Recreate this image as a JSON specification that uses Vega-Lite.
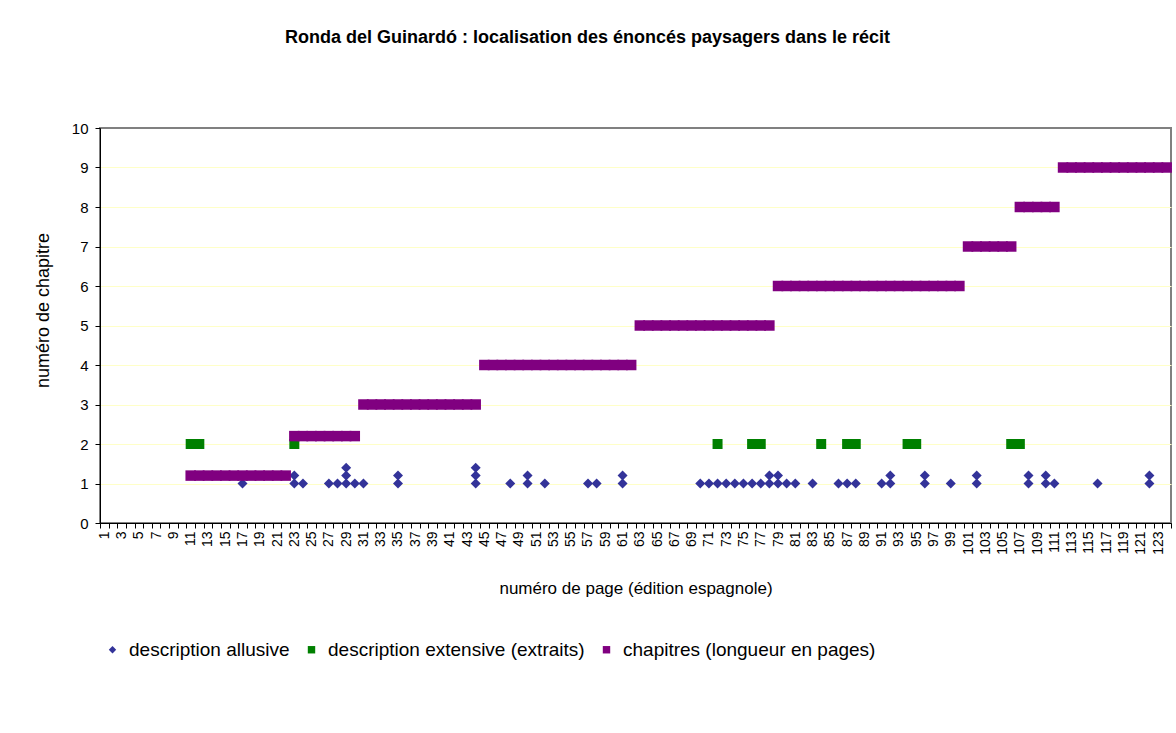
{
"$schema": "https://vega.github.io/schema/vega-lite/v6.json",
"width": 1071,
"height": 395,
"autosize": {"type": "none"},
"padding": {"left": 100, "top": 128, "right": 5, "bottom": 210},
"background": "white",
"title": {"text": "Ronda del Guinardó : localisation des énoncés paysagers dans le récit", "font": "Liberation Sans", "fontSize": 18, "fontWeight": "bold", "color": "black", "anchor": "middle", "dx": -48, "offset": 74},
"config": {"view": {"stroke": "#808080", "strokeWidth": 2}},
"data": {"values": [
{"p":17,"v":1,"s":"description allusive"},{"p":23,"v":1,"s":"description allusive"},{"p":24,"v":1,"s":"description allusive"},{"p":27,"v":1,"s":"description allusive"},{"p":28,"v":1,"s":"description allusive"},{"p":29,"v":1,"s":"description allusive"},{"p":30,"v":1,"s":"description allusive"},{"p":31,"v":1,"s":"description allusive"},{"p":35,"v":1,"s":"description allusive"},{"p":44,"v":1,"s":"description allusive"},{"p":48,"v":1,"s":"description allusive"},{"p":50,"v":1,"s":"description allusive"},{"p":52,"v":1,"s":"description allusive"},{"p":57,"v":1,"s":"description allusive"},{"p":58,"v":1,"s":"description allusive"},{"p":61,"v":1,"s":"description allusive"},{"p":70,"v":1,"s":"description allusive"},{"p":71,"v":1,"s":"description allusive"},{"p":72,"v":1,"s":"description allusive"},{"p":73,"v":1,"s":"description allusive"},{"p":74,"v":1,"s":"description allusive"},{"p":75,"v":1,"s":"description allusive"},{"p":76,"v":1,"s":"description allusive"},{"p":77,"v":1,"s":"description allusive"},{"p":78,"v":1,"s":"description allusive"},{"p":79,"v":1,"s":"description allusive"},{"p":80,"v":1,"s":"description allusive"},{"p":81,"v":1,"s":"description allusive"},{"p":83,"v":1,"s":"description allusive"},{"p":86,"v":1,"s":"description allusive"},{"p":87,"v":1,"s":"description allusive"},{"p":88,"v":1,"s":"description allusive"},{"p":91,"v":1,"s":"description allusive"},{"p":92,"v":1,"s":"description allusive"},{"p":96,"v":1,"s":"description allusive"},{"p":99,"v":1,"s":"description allusive"},{"p":102,"v":1,"s":"description allusive"},{"p":108,"v":1,"s":"description allusive"},{"p":110,"v":1,"s":"description allusive"},{"p":111,"v":1,"s":"description allusive"},{"p":116,"v":1,"s":"description allusive"},{"p":122,"v":1,"s":"description allusive"},
{"p":23,"v":1.2,"s":"description allusive"},{"p":29,"v":1.2,"s":"description allusive"},{"p":35,"v":1.2,"s":"description allusive"},{"p":44,"v":1.2,"s":"description allusive"},{"p":50,"v":1.2,"s":"description allusive"},{"p":61,"v":1.2,"s":"description allusive"},{"p":78,"v":1.2,"s":"description allusive"},{"p":79,"v":1.2,"s":"description allusive"},{"p":92,"v":1.2,"s":"description allusive"},{"p":96,"v":1.2,"s":"description allusive"},{"p":102,"v":1.2,"s":"description allusive"},{"p":108,"v":1.2,"s":"description allusive"},{"p":110,"v":1.2,"s":"description allusive"},{"p":122,"v":1.2,"s":"description allusive"},
{"p":29,"v":1.4,"s":"description allusive"},{"p":44,"v":1.4,"s":"description allusive"},
{"p":11,"v":2,"s":"description extensive (extraits)"},{"p":12,"v":2,"s":"description extensive (extraits)"},{"p":23,"v":2,"s":"description extensive (extraits)"},{"p":72,"v":2,"s":"description extensive (extraits)"},{"p":76,"v":2,"s":"description extensive (extraits)"},{"p":77,"v":2,"s":"description extensive (extraits)"},{"p":84,"v":2,"s":"description extensive (extraits)"},{"p":87,"v":2,"s":"description extensive (extraits)"},{"p":88,"v":2,"s":"description extensive (extraits)"},{"p":94,"v":2,"s":"description extensive (extraits)"},{"p":95,"v":2,"s":"description extensive (extraits)"},{"p":106,"v":2,"s":"description extensive (extraits)"},{"p":107,"v":2,"s":"description extensive (extraits)"},
{"p":11,"v":1.2,"s":"chapitres (longueur en pages)"},{"p":12,"v":1.2,"s":"chapitres (longueur en pages)"},{"p":13,"v":1.2,"s":"chapitres (longueur en pages)"},{"p":14,"v":1.2,"s":"chapitres (longueur en pages)"},{"p":15,"v":1.2,"s":"chapitres (longueur en pages)"},{"p":16,"v":1.2,"s":"chapitres (longueur en pages)"},{"p":17,"v":1.2,"s":"chapitres (longueur en pages)"},{"p":18,"v":1.2,"s":"chapitres (longueur en pages)"},{"p":19,"v":1.2,"s":"chapitres (longueur en pages)"},{"p":20,"v":1.2,"s":"chapitres (longueur en pages)"},{"p":21,"v":1.2,"s":"chapitres (longueur en pages)"},{"p":22,"v":1.2,"s":"chapitres (longueur en pages)"},
{"p":23,"v":2.2,"s":"chapitres (longueur en pages)"},{"p":24,"v":2.2,"s":"chapitres (longueur en pages)"},{"p":25,"v":2.2,"s":"chapitres (longueur en pages)"},{"p":26,"v":2.2,"s":"chapitres (longueur en pages)"},{"p":27,"v":2.2,"s":"chapitres (longueur en pages)"},{"p":28,"v":2.2,"s":"chapitres (longueur en pages)"},{"p":29,"v":2.2,"s":"chapitres (longueur en pages)"},{"p":30,"v":2.2,"s":"chapitres (longueur en pages)"},
{"p":31,"v":3,"s":"chapitres (longueur en pages)"},{"p":32,"v":3,"s":"chapitres (longueur en pages)"},{"p":33,"v":3,"s":"chapitres (longueur en pages)"},{"p":34,"v":3,"s":"chapitres (longueur en pages)"},{"p":35,"v":3,"s":"chapitres (longueur en pages)"},{"p":36,"v":3,"s":"chapitres (longueur en pages)"},{"p":37,"v":3,"s":"chapitres (longueur en pages)"},{"p":38,"v":3,"s":"chapitres (longueur en pages)"},{"p":39,"v":3,"s":"chapitres (longueur en pages)"},{"p":40,"v":3,"s":"chapitres (longueur en pages)"},{"p":41,"v":3,"s":"chapitres (longueur en pages)"},{"p":42,"v":3,"s":"chapitres (longueur en pages)"},{"p":43,"v":3,"s":"chapitres (longueur en pages)"},{"p":44,"v":3,"s":"chapitres (longueur en pages)"},
{"p":45,"v":4,"s":"chapitres (longueur en pages)"},{"p":46,"v":4,"s":"chapitres (longueur en pages)"},{"p":47,"v":4,"s":"chapitres (longueur en pages)"},{"p":48,"v":4,"s":"chapitres (longueur en pages)"},{"p":49,"v":4,"s":"chapitres (longueur en pages)"},{"p":50,"v":4,"s":"chapitres (longueur en pages)"},{"p":51,"v":4,"s":"chapitres (longueur en pages)"},{"p":52,"v":4,"s":"chapitres (longueur en pages)"},{"p":53,"v":4,"s":"chapitres (longueur en pages)"},{"p":54,"v":4,"s":"chapitres (longueur en pages)"},{"p":55,"v":4,"s":"chapitres (longueur en pages)"},{"p":56,"v":4,"s":"chapitres (longueur en pages)"},{"p":57,"v":4,"s":"chapitres (longueur en pages)"},{"p":58,"v":4,"s":"chapitres (longueur en pages)"},{"p":59,"v":4,"s":"chapitres (longueur en pages)"},{"p":60,"v":4,"s":"chapitres (longueur en pages)"},{"p":61,"v":4,"s":"chapitres (longueur en pages)"},{"p":62,"v":4,"s":"chapitres (longueur en pages)"},
{"p":63,"v":5,"s":"chapitres (longueur en pages)"},{"p":64,"v":5,"s":"chapitres (longueur en pages)"},{"p":65,"v":5,"s":"chapitres (longueur en pages)"},{"p":66,"v":5,"s":"chapitres (longueur en pages)"},{"p":67,"v":5,"s":"chapitres (longueur en pages)"},{"p":68,"v":5,"s":"chapitres (longueur en pages)"},{"p":69,"v":5,"s":"chapitres (longueur en pages)"},{"p":70,"v":5,"s":"chapitres (longueur en pages)"},{"p":71,"v":5,"s":"chapitres (longueur en pages)"},{"p":72,"v":5,"s":"chapitres (longueur en pages)"},{"p":73,"v":5,"s":"chapitres (longueur en pages)"},{"p":74,"v":5,"s":"chapitres (longueur en pages)"},{"p":75,"v":5,"s":"chapitres (longueur en pages)"},{"p":76,"v":5,"s":"chapitres (longueur en pages)"},{"p":77,"v":5,"s":"chapitres (longueur en pages)"},{"p":78,"v":5,"s":"chapitres (longueur en pages)"},
{"p":79,"v":6,"s":"chapitres (longueur en pages)"},{"p":80,"v":6,"s":"chapitres (longueur en pages)"},{"p":81,"v":6,"s":"chapitres (longueur en pages)"},{"p":82,"v":6,"s":"chapitres (longueur en pages)"},{"p":83,"v":6,"s":"chapitres (longueur en pages)"},{"p":84,"v":6,"s":"chapitres (longueur en pages)"},{"p":85,"v":6,"s":"chapitres (longueur en pages)"},{"p":86,"v":6,"s":"chapitres (longueur en pages)"},{"p":87,"v":6,"s":"chapitres (longueur en pages)"},{"p":88,"v":6,"s":"chapitres (longueur en pages)"},{"p":89,"v":6,"s":"chapitres (longueur en pages)"},{"p":90,"v":6,"s":"chapitres (longueur en pages)"},{"p":91,"v":6,"s":"chapitres (longueur en pages)"},{"p":92,"v":6,"s":"chapitres (longueur en pages)"},{"p":93,"v":6,"s":"chapitres (longueur en pages)"},{"p":94,"v":6,"s":"chapitres (longueur en pages)"},{"p":95,"v":6,"s":"chapitres (longueur en pages)"},{"p":96,"v":6,"s":"chapitres (longueur en pages)"},{"p":97,"v":6,"s":"chapitres (longueur en pages)"},{"p":98,"v":6,"s":"chapitres (longueur en pages)"},{"p":99,"v":6,"s":"chapitres (longueur en pages)"},{"p":100,"v":6,"s":"chapitres (longueur en pages)"},
{"p":101,"v":7,"s":"chapitres (longueur en pages)"},{"p":102,"v":7,"s":"chapitres (longueur en pages)"},{"p":103,"v":7,"s":"chapitres (longueur en pages)"},{"p":104,"v":7,"s":"chapitres (longueur en pages)"},{"p":105,"v":7,"s":"chapitres (longueur en pages)"},{"p":106,"v":7,"s":"chapitres (longueur en pages)"},
{"p":107,"v":8,"s":"chapitres (longueur en pages)"},{"p":108,"v":8,"s":"chapitres (longueur en pages)"},{"p":109,"v":8,"s":"chapitres (longueur en pages)"},{"p":110,"v":8,"s":"chapitres (longueur en pages)"},{"p":111,"v":8,"s":"chapitres (longueur en pages)"},
{"p":112,"v":9,"s":"chapitres (longueur en pages)"},{"p":113,"v":9,"s":"chapitres (longueur en pages)"},{"p":114,"v":9,"s":"chapitres (longueur en pages)"},{"p":115,"v":9,"s":"chapitres (longueur en pages)"},{"p":116,"v":9,"s":"chapitres (longueur en pages)"},{"p":117,"v":9,"s":"chapitres (longueur en pages)"},{"p":118,"v":9,"s":"chapitres (longueur en pages)"},{"p":119,"v":9,"s":"chapitres (longueur en pages)"},{"p":120,"v":9,"s":"chapitres (longueur en pages)"},{"p":121,"v":9,"s":"chapitres (longueur en pages)"},{"p":122,"v":9,"s":"chapitres (longueur en pages)"},{"p":123,"v":9,"s":"chapitres (longueur en pages)"},{"p":124,"v":9,"s":"chapitres (longueur en pages)"}
]},
"encoding": {
  "x": {"field": "p", "type": "ordinal",
    "scale": {"type": "band", "paddingInner": 0, "paddingOuter": 0,
      "domain": [1,2,3,4,5,6,7,8,9,10,11,12,13,14,15,16,17,18,19,20,21,22,23,24,25,26,27,28,29,30,31,32,33,34,35,36,37,38,39,40,41,42,43,44,45,46,47,48,49,50,51,52,53,54,55,56,57,58,59,60,61,62,63,64,65,66,67,68,69,70,71,72,73,74,75,76,77,78,79,80,81,82,83,84,85,86,87,88,89,90,91,92,93,94,95,96,97,98,99,100,101,102,103,104,105,106,107,108,109,110,111,112,113,114,115,116,117,118,119,120,121,122,123,124]},
    "axis": {"title": "numéro de page (édition espagnole)", "tickBand": "extent", "labelAngle": -90, "labelAlign": "right", "labelBaseline": "middle", "labelOverlap": false, "labelExpr": "datum.value % 2 == 1 ? datum.label : ''", "labelFont": "Liberation Sans", "labelFontSize": 14, "labelColor": "black", "labelPadding": 3, "tickSize": 5, "tickColor": "black", "domainColor": "black", "grid": false, "titleFont": "Liberation Sans", "titleFontSize": 17, "titleFontWeight": "normal", "titleColor": "black", "titleY": 57, "titleBaseline": "top"}},
  "y": {"field": "v", "type": "quantitative",
    "scale": {"domain": [0, 10], "nice": false},
    "axis": {"title": "numéro de chapitre", "values": [0,1,2,3,4,5,6,7,8,9,10], "grid": true, "gridColor": "#ffffc8", "gridWidth": 1, "gridOpacity": {"condition": {"test": "datum.value == 10 || datum.value == 0", "value": 0}, "value": 1}, "domainColor": "black", "tickColor": "black", "tickSize": 5, "labelFont": "Liberation Sans", "labelFontSize": 15, "labelColor": "black", "labelPadding": 7, "titleFont": "Liberation Sans", "titleFontSize": 18, "titleFontWeight": "normal", "titleColor": "black", "titleX": -57, "titleY": 182, "titleAngle": -90, "titleAlign": "center", "titleBaseline": "middle"}},
  "color": {"field": "s", "type": "nominal",
    "scale": {"domain": ["description allusive", "description extensive (extraits)", "chapitres (longueur en pages)"], "range": ["#333399", "#008000", "#800080"]},
    "legend": {"title": null, "orient": "none", "legendX": 3, "legendY": 512, "direction": "horizontal", "labelFont": "Liberation Sans", "labelFontSize": 19, "labelColor": "black", "labelLimit": 0, "symbolSize": 55, "labelOffset": 7, "columnPadding": 12, "symbolStrokeWidth": 0}},
  "shape": {"field": "s", "type": "nominal",
    "scale": {"domain": ["description allusive", "description extensive (extraits)", "chapitres (longueur en pages)"], "range": ["diamond", "square", "square"]}}
},
"layer": [
  {"transform": [{"filter": "datum.s == 'description allusive'"}], "mark": {"type": "point", "filled": true, "opacity": 1, "size": 100}},
  {"transform": [{"filter": "datum.s == 'description extensive (extraits)'"}], "mark": {"type": "point", "filled": true, "opacity": 1, "size": 100}},
  {"transform": [{"filter": "datum.s == 'chapitres (longueur en pages)'"}], "mark": {"type": "point", "filled": true, "opacity": 1, "size": 110}}
]
}
